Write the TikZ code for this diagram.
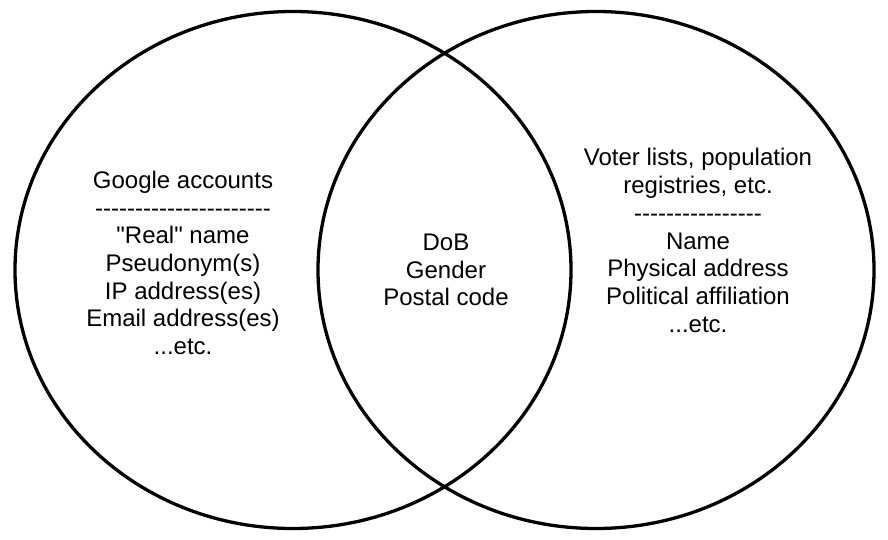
\documentclass[tikz,border=0pt]{standalone}
\usepackage{fontspec}
\newfontfamily\arialfont{Liberation Sans}[Ligatures=NoCommon]
\newcommand\hy{-\kern0pt}
\newcommand\hyrow[1]{\foreach \i in {1,...,#1}{\hy}}
\begin{document}
\begin{tikzpicture}[x=1pt,y=-1pt,
  setcircle/.style={line width=3.3pt},
  settext/.style={align=center,inner sep=0pt,font=\arialfont\fontsize{24}{27.7}\selectfont}]
\useasboundingbox[fill=white] (0,0) rectangle (888,540);
\draw[setcircle] (293,270) ellipse [x radius=278pt, y radius=258.5pt];
\draw[setcircle] (596,270) ellipse [x radius=278pt, y radius=258.5pt];
\node[settext] (google) at (183,263) {Google accounts\\\hyrow{22}\\"Real" name\\Pseudonym(s)\\IP address(es)\\Email address(es)\\...etc.};
\node[settext] (shared) at (446,270) {DoB\\Gender\\Postal code};
\node[settext] (voter) at (698,240.5) {Voter lists, population\\registries, etc.\\\hyrow{16}\\Name\\Physical address\\Political affiliation\\...etc.};
\end{tikzpicture}
\end{document}
